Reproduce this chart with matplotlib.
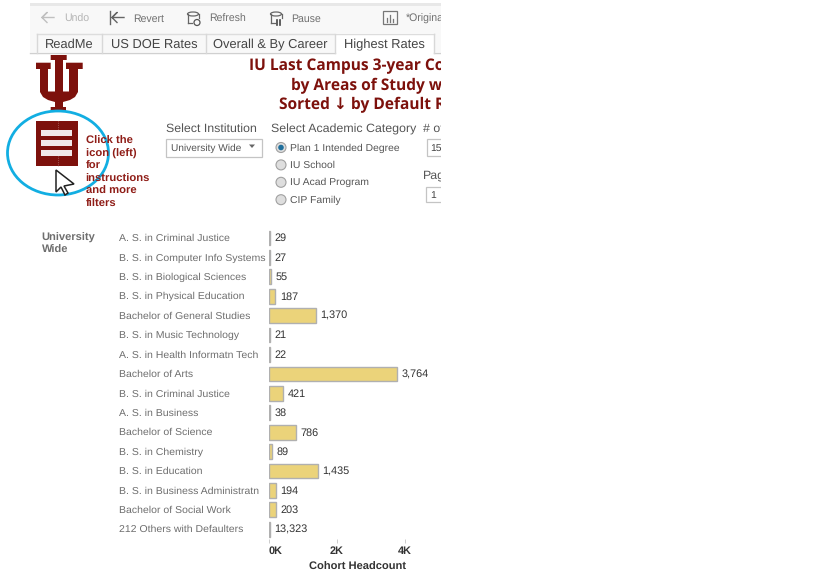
import matplotlib
matplotlib.use('Agg')
import matplotlib.pyplot as plt
from matplotlib.patches import Polygon, Rectangle, Ellipse, Circle

plt.rcParams['font.family'] = ['Liberation Sans', 'DejaVu Sans']
plt.rcParams['text.hinting'] = 'no_hinting'

programs = ['A. S. in Criminal Justice', 'B. S. in Computer Info Systems',
            'B. S. in Biological Sciences', 'B. S. in Physical Education',
            'Bachelor of General Studies', 'B. S. in Music Technology',
            'A. S. in Health Informatn Tech', 'Bachelor of Arts',
            'B. S. in Criminal Justice', 'A. S. in Business',
            'Bachelor of Science', 'B. S. in Chemistry', 'B. S. in Education',
            'B. S. in Business Administratn', 'Bachelor of Social Work',
            '212 Others with Defaulters']
# headcount as printed next to the bars
headcount = [29, 27, 55, 187, 1370, 21, 22, 3764, 421, 38, 786, 89, 1435, 194, 203, 13323]
# bar lengths as drawn, the last bar is a sliver in the picture despite its label
bar_length = [29, 27, 55, 187, 1370, 21, 22, 3764, 421, 38, 786, 89, 1435, 194, 203, 30]
x_ticks = [0, 2000, 4000]
x_tick_labels = ['0K', '2K', '4K']
tabs = ['ReadMe', 'US DOE Rates', 'Overall & By Career', 'Highest Rates']
tab_edges = [37, 102, 206, 335, 434]
title_lines = ['IU Last Campus 3-year Cohort', 'by Areas of Study with', 'Sorted \u2193 by Default Rate']
title_x = [249, 291, 279]
radio_labels = ['Plan 1 Intended Degree', 'IU School', 'IU Acad Program', 'CIP Family']
menu_lines = ['Click the', 'icon (left)', 'for', 'instructions', 'and more', 'filters']

W, H = 825, 577
CRIM = '#7d110c'
GRAY = '#6e6e6e'
fig = plt.figure(figsize=(W / 100, H / 100), dpi=100)

# page furniture in pixel coordinates, cut at x=441 like the screenshot
bg = fig.add_axes([0, 0, 441 / W, 1])
bg.set_xlim(0, 441)
bg.set_ylim(H, 0)
bg.axis('off')

bg.add_patch(Rectangle((30, 3), 411, 2.5, color='#e8e8e8', lw=0))
bg.add_patch(Rectangle((30, 5.5), 411, 25, color='#f8f8f8', lw=0))
bg.add_patch(Rectangle((30, 31), 411, 21, color='#f8f8f8', lw=0))
bg.add_patch(Rectangle((335, 33), 99, 20, color='white', lw=0))
bg.plot([30, 335], [52.5, 52.5], color='#d0d0d0', lw=1)
bg.plot([434, 441], [52.5, 52.5], color='#d0d0d0', lw=1)
bg.plot([37, 434], [33.5, 33.5], color='#dddddd', lw=1)
for x in tab_edges:
    bg.plot([x, x], [33.5, 52.5], color='#d8d8d8', lw=1)
for i, tab in enumerate(tabs):
    bg.text((tab_edges[i] + tab_edges[i + 1]) / 2, 45, tab, ha='center', va='center',
            fontsize=9.3, color='#444444')

# toolbar
bar_txt = [(64, 'Undo', '#b5b5b5'), (133, 'Revert', '#707070'), (209, 'Refresh', '#707070'),
           (291, 'Pause', '#707070'), (406, '*Original', '#707070')]
for x, s, c in bar_txt:
    bg.text(x, 19, s, fontsize=7.6, color=c, va='center', clip_on=True)
for x0, x1, c in [(42, 54, '#c0c0c0'), (112, 124, '#666666')]:
    bg.plot([x1, x0, x0 + 5, x0, x0 + 5], [17.5, 17.5, 12.5, 17.5, 22.5], color=c, lw=1)
bg.plot([110, 110], [11, 24], color='#666666', lw=1)
for x in (187, 270):
    bg.add_patch(Ellipse((x + 6, 14), 11, 4, fc='none', ec='#666666', lw=0.9))
    bg.plot([x + 0.5, x + 0.5], [14, 23], color='#666666', lw=0.9)
    bg.plot([x + 11.5, x + 11.5], [14, 18], color='#666666', lw=0.9)
    bg.plot([x + 0.5, x + 5], [23, 23], color='#666666', lw=0.9)
bg.add_patch(Circle((197, 22.5), 3, fc='none', ec='#555555', lw=0.9))
bg.plot([277, 277], [20, 25], color='#444444', lw=1.2)
bg.plot([280, 280], [20, 25], color='#444444', lw=1.2)
bg.add_patch(Rectangle((383, 11), 14, 13, fc='none', ec='#777777', lw=0.9))
for x, top in [(387, 18), (390, 15), (393, 19)]:
    bg.plot([x, x], [top, 22], color='#777777', lw=0.9)

# IU trident
trident = [(36, 62.7), (50.7, 62.7), (50.7, 69), (48, 69), (48, 91.5), (55, 91.5), (55, 60), (50.7, 60),
           (50.7, 55), (66.7, 55), (66.7, 60), (63, 60), (63, 91.5), (69, 91.5), (69, 69), (66, 69),
           (66, 62.7), (82.7, 62.7), (82.7, 69), (78, 69), (78, 92), (75, 97), (70, 100), (63, 102),
           (63, 107), (66, 107), (66, 111), (50.7, 111), (50.7, 107), (55, 107), (55, 102),
           (48, 100), (43, 97), (40, 92), (40, 69), (36, 69)]
bg.add_patch(Polygon(trident, closed=True, color=CRIM, lw=0))

# menu icon
bg.add_patch(Rectangle((36, 121), 42, 45, color=CRIM, lw=0))
for y in (130, 139.5, 149.5):
    bg.add_patch(Rectangle((40.7, y), 31, 6, color='#f0e9e9', lw=0))
bg.plot([57.5, 57.5], [121, 130], color='#b98a88', lw=0.5, ls=':')
bg.plot([57.5, 57.5], [156, 166], color='#b98a88', lw=0.5, ls=':')
bg.add_patch(Ellipse((58, 153), 101, 84, fc='none', ec='#12aee2', lw=2))
cursor = [(56, 170), (56, 192), (61, 187), (65, 195), (68, 193), (64, 186), (74, 184)]
bg.add_patch(Polygon(cursor, closed=True, fc='white', ec='#222222', lw=1.1))
for i, s in enumerate(menu_lines):
    bg.text(85.5, 141 + i * 12.6, s, fontsize=8.1, fontweight='bold', color='#8f1d17', va='center')

# title, runs past the cut on the right
for y, s, x in zip((66, 85.5, 105), title_lines, title_x):
    bg.text(x, y, s, fontsize=11.2, fontweight='bold', color=CRIM, va='center',
            family=['Open Sans', 'DejaVu Sans'], clip_on=True)

# filters
bg.text(166, 129, 'Select Institution', fontsize=8.9, color='#555555', va='center')
bg.add_patch(Rectangle((165.5, 138.5), 96, 18, fc='white', ec='#c4c4c4', lw=0.9))
bg.text(171, 148.5, 'University Wide', fontsize=7.3, color='#555555', va='center')
bg.add_patch(Polygon([(249, 144.5), (255, 144.5), (252, 148)], closed=True, color='#666666', lw=0))
bg.text(271, 129, 'Select Academic Category', fontsize=8.9, color='#555555', va='center')
for i, s in enumerate(radio_labels):
    y = 147.5 + i * 17.4
    bg.add_patch(Circle((281, y), 5, fc='#dedede', ec='#a0a0a0', lw=0.8))
    if i == 0:
        bg.add_patch(Circle((281, y), 2.8, color='#1f6f9c', lw=0))
    bg.text(290.5, y + 0.5, s, fontsize=7.5, color='#555555', va='center')
bg.text(423, 129, '# of', fontsize=8.9, color='#555555', va='center', clip_on=True)
bg.add_patch(Rectangle((426.5, 139), 30, 17, fc='white', ec='#c4c4c4', lw=0.9))
bg.text(430, 148.5, '15', fontsize=7.5, color='#444444', va='center', clip_on=True)
bg.text(423, 175, 'Page', fontsize=8.9, color='#555555', va='center', clip_on=True)
bg.add_patch(Rectangle((426, 187), 30, 15, fc='white', ec='#c4c4c4', lw=0.9))
bg.text(430, 195.5, '1', fontsize=7.5, color='#444444', va='center', clip_on=True)

bg.text(41.5, 237.5, 'University', fontsize=8, fontweight='bold', color=GRAY, va='center')
bg.text(41.5, 250, 'Wide', fontsize=8, fontweight='bold', color=GRAY, va='center')

# bars, 34 px per 1000
ax = fig.add_axes([269 / W, 1 - 539 / H, 170 / W, 310.7 / H])
ax.patch.set_alpha(0)
ypos = list(range(len(programs)))
ax.barh(ypos, bar_length, height=0.76, color='#ebd37a', edgecolor='#b0b0b0', linewidth=1)
ax.set_xlim(0, 5000)
ax.set_ylim(15.5, -0.5)
for spine in ax.spines.values():
    spine.set_visible(False)
ax.set_yticks([])
for i, name in enumerate(programs):
    ax.annotate(name, (0, i), xytext=(119 - 269, -0.5), textcoords='offset pixels', va='center',
                fontsize=7.55, color=GRAY, annotation_clip=False)
    ax.annotate(f'{headcount[i]:,}', (bar_length[i], i), xytext=(4.5, -0.5), textcoords='offset pixels',
                va='center', fontsize=7.8, color='#333333')
ax.set_xticks(x_ticks)
ax.set_xticklabels(x_tick_labels, fontsize=7.8, fontweight='bold', color='#333333')
ax.get_xticklabels()[0].set_ha('left')
ax.tick_params(axis='x', length=3, width=0.7, color='#cccccc', pad=2)
ax.text(0.52, -0.09, 'Cohort Headcount', transform=ax.transAxes, ha='center',
        va='center', fontsize=8, fontweight='bold', color='#333333')

fig.savefig('out.png', dpi=100)
